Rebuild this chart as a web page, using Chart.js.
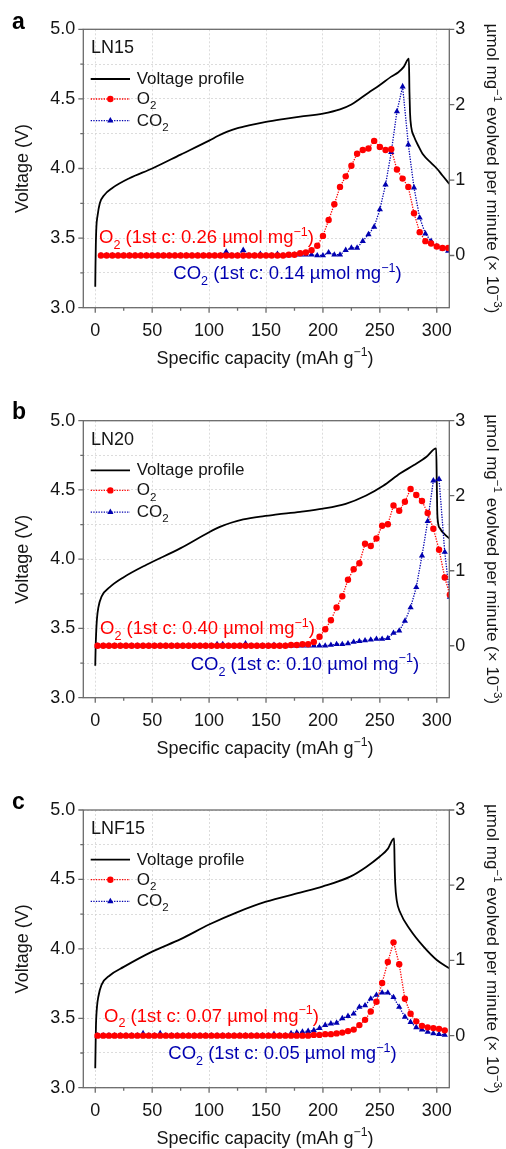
<!DOCTYPE html>
<html>
<head>
<meta charset="utf-8">
<script src="https://cdn.jsdelivr.net/npm/chart.js@4.4.1/dist/chart.umd.min.js"></script>
<style>
html,body{margin:0;padding:0;background:#fff;}
body{width:506px;height:1149px;position:relative;overflow:hidden;}
canvas{position:absolute;left:0;}
</style>
</head>
<body>
<canvas id="ca" width="506" height="385" style="top:0px"></canvas>
<canvas id="cb" width="506" height="385" style="top:390px"></canvas>
<canvas id="cc" width="506" height="369" style="top:780px"></canvas>
<script>
// ---------------- DATA ----------------
// shared ticks
const xMajor = [0, 50, 100, 150, 200, 250, 300];
const xMinor = [25, 75, 125, 175, 225, 275];
const yMajor = [3.0, 3.5, 4.0, 4.5, 5.0];
const yMinor = [3.25, 3.75, 4.25, 4.75];
const y2Major = [0, 1, 2, 3];

// Panel a : LN15
const capGasA = [5,10,15,20,25,30,35,40,45,50,55,60,65,70,75,80,85,90,95,100,105,110,115,120,125,130,135,140,145,150,155,160,165,170,175,180,185,190,195,200,205,210,215,220,225,230,235,240,245,250,255,260,265,270,275,280,285,290,295,300,305,310];
const o2A = [0,0,0,0,0,0,0,0,0,0, 0,0,0,0,0,0,0,0,0,0, 0,0,0,0,0,0,0,0,0,0, 0,0,0,
  0.01,0.01,0.03,0.04,0.07,0.13,0.26,0.47,0.68,0.91,1.05,1.19,1.35,1.40,1.42,1.52,1.44,1.40,1.41,1.14,1.02,0.91,0.56,0.31,0.19,0.16,0.12,0.10,0.10];
const co2A = [0,0,0,0,0,0,0,0,0,0, 0,0,0,0,0,0,0,0,0,0, 0,0,0.05,0,0,0.07,0,0,0.02,0,0,0.02,0,0,0.01,0.01,0.01,
  0.01,0.00,0.00,0.04,0.01,0.01,0.07,0.10,0.10,0.19,0.28,0.38,0.61,0.94,1.37,1.91,2.24,1.47,0.90,0.50,0.29,0.19,0.12,0.09,0.06];
const capVA = [0,0.2,0.5,1,2,4,8,15,30,50,75,100,108,116,125,135,150,165,180,200,215,225,240,250,260,266,271,275.5,276,276.5,277.5,280,284,288,295,300,305,311];
const voltA = [3.15,3.30,3.45,3.58,3.66,3.75,3.81,3.86,3.93,4.00,4.10,4.20,4.235,4.265,4.29,4.31,4.335,4.355,4.373,4.395,4.425,4.46,4.545,4.60,4.66,4.69,4.73,4.79,4.55,4.40,4.30,4.23,4.16,4.10,4.04,4.00,3.95,3.89];

// Panel b : LN20
const capGasB = [2,7,12,17,22,27,32,37,42,47,52,57,62,67,72,77,82,87,92,97,102,107,112,117,122,127,132,137,142,147,152,157,162,167,172,177,182,187,192,197,202,207,212,217,222,227,232,237,242,247,252,257,262,267,272,277,282,287,292,297,302,307,311.5];
const o2B = [0,0,0,0,0,0,0,0,0,0, 0,0,0,0,0,0,0,0,0,0, 0,0,0,0,0,0,0,0,0,0, 0,0,0,0,
  0.01,0.01,0.02,0.02,0.05,0.12,0.22,0.34,0.51,0.66,0.88,1.02,1.10,1.36,1.33,1.43,1.60,1.62,1.87,1.80,1.92,2.09,2.01,1.93,1.77,1.56,1.28,0.91,0.68];
const co2B = [0,0,0,0,0,0,0,0,0,0, 0,0,0,0,0,0,0,0,0,0, 0,0.02,0.02,0,0,0,0.03,0,0,0, 0,0.01,0,0,0,0,0,0,0,
  0.00,0.00,0.01,0.02,0.02,0.03,0.05,0.06,0.07,0.08,0.09,0.09,0.10,0.17,0.20,0.33,0.51,0.78,1.20,1.66,2.20,2.22,1.25,0.65];
const capVB = [0,0.3,0.8,1.5,2.7,5.5,13,25,45,75,100,110,120,130,145,160,180,200,220,238,253,268,280,291,299.5,300,300.4,301,303,307,311];
const voltB = [3.23,3.35,3.47,3.57,3.65,3.73,3.80,3.87,3.96,4.08,4.195,4.235,4.265,4.287,4.308,4.323,4.342,4.365,4.40,4.46,4.53,4.62,4.68,4.74,4.80,4.55,4.35,4.27,4.22,4.18,4.15];

// Panel c : LNF15
const capGasC = [2,7,12,17,22,27,32,37,42,47,52,57,62,67,72,77,82,87,92,97,102,107,112,117,122,127,132,137,142,147,152,157,162,167,172,177,182,187,192,197,202,207,212,217,222,227,232,237,242,247,252,257,262,267,272,277,282,287,292,297,302,307];
const o2C = [0,0,0,0,0,0,0,0,0,0, 0,0,0,0,0,0,0,0,0,0, 0,0,0,0,0,0,0,0,0,0, 0,0,0,0,0,0,0,0,
  0.01,0.01,0.02,0.02,0.03,0.04,0.06,0.08,0.14,0.21,0.32,0.45,0.70,0.98,1.24,0.95,0.49,0.29,0.19,0.13,0.11,0.10,0.09,0.07];
const co2C = [0,0,0,0,0,0,0,0,0.03,0, 0,0.03,0,0,0,0,0,0,0,0, 0,0,0,0,0,0,0,0,0,0, 0,0.02,0,0,
  0.03,0.04,0.05,0.06,0.07,0.10,0.14,0.16,0.17,0.23,0.26,0.29,0.38,0.40,0.49,0.54,0.57,0.57,0.51,0.38,0.25,0.18,0.11,0.08,0.05,0.03,0.02,0.01];
const capVC = [0,0.3,0.6,1.5,2.7,5.5,13,25,50,75,100,125,150,180,200,224,238,250,257,262.5,263,263.5,264.8,268,276.5,288,300,311];
const voltC = [3.14,3.30,3.44,3.58,3.655,3.74,3.81,3.87,3.98,4.07,4.175,4.265,4.34,4.405,4.45,4.52,4.59,4.665,4.72,4.795,4.60,4.47,4.35,4.26,4.14,4.02,3.92,3.86];

// text
const panelLetters = ['a', 'b', 'c'];
const sampleNames = ['LN15', 'LN20', 'LNF15'];
const o2Notes = ['O_{2} (1st c: 0.26 µmol mg^{−1})', 'O_{2} (1st c: 0.40 µmol mg^{−1})', 'O_{2} (1st c: 0.07 µmol mg^{−1})'];
const co2Notes = ['CO_{2} (1st c: 0.14 µmol mg^{−1})', 'CO_{2} (1st c: 0.10 µmol mg^{−1})', 'CO_{2} (1st c: 0.05 µmol mg^{−1})'];
const legendLabels = ['Voltage profile', 'O_{2}', 'CO_{2}'];
const xTitle = 'Specific capacity (mAh g^{−1})';
const yTitle = 'Voltage (V)';
const y2Title = 'µmol mg^{−1} evolved per minute (× 10^{−3})';

// ---------------- STYLE ----------------
const FONT = '"Liberation Sans", Arial, Helvetica, sans-serif';
const AXIS = '#6b6b6b', GRID = '#d4d4d4', TXT = '#151515', RED = '#ff0000', BLUE = '#0000b0';

function parseRich(s) {
  const out = []; const re = /([_^])\{([^}]*)\}/g; let last = 0, m;
  while ((m = re.exec(s))) {
    if (m.index > last) out.push({ t: s.slice(last, m.index) });
    out.push({ t: m[2], k: m[1] === '_' ? 'sub' : 'sup' });
    last = re.lastIndex;
  }
  if (last < s.length) out.push({ t: s.slice(last) });
  return out;
}
function setF(ctx, seg, size, bold) {
  const sz = seg.k ? size * 0.68 : size;
  ctx.font = (bold ? 'bold ' : '') + sz + 'px ' + FONT;
}
function richWidth(ctx, segs, size, bold) {
  let w = 0; segs.forEach(s => { setF(ctx, s, size, bold); w += ctx.measureText(s.t).width; }); return w;
}
function drawRich(ctx, str, x, y, size, color, align, bold) {
  const segs = parseRich(str);
  const w = richWidth(ctx, segs, size, bold);
  let cx = align === 'center' ? x - w / 2 : x;
  ctx.fillStyle = color; ctx.textAlign = 'left'; ctx.textBaseline = 'alphabetic';
  segs.forEach(s => {
    setF(ctx, s, size, bold);
    let dy = 0;
    if (s.k === 'sub') dy = size * 0.30;
    if (s.k === 'sup') dy = -size * 0.42;
    ctx.fillText(s.t, cx, y + dy);
    cx += ctx.measureText(s.t).width;
  });
}

function deco(i, pos) {
  return {
    id: 'deco' + i,
    afterDatasetsDraw(chart) {
      const { ctx, chartArea: ca, scales } = chart;
      ctx.save();
      ctx.strokeStyle = AXIS; ctx.lineWidth = 1.3; ctx.setLineDash([]);
      ctx.strokeRect(ca.left, ca.top, ca.right - ca.left, ca.bottom - ca.top);
      ctx.beginPath();
      xMajor.forEach(v => { const p = scales.x.getPixelForValue(v); ctx.moveTo(p, ca.bottom); ctx.lineTo(p, ca.bottom + 5); });
      xMinor.forEach(v => { const p = scales.x.getPixelForValue(v); ctx.moveTo(p, ca.bottom); ctx.lineTo(p, ca.bottom + 3); });
      yMajor.forEach(v => { const p = scales.y.getPixelForValue(v); ctx.moveTo(ca.left, p); ctx.lineTo(ca.left - 5, p); });
      yMinor.forEach(v => { const p = scales.y.getPixelForValue(v); ctx.moveTo(ca.left, p); ctx.lineTo(ca.left - 3, p); });
      y2Major.forEach(v => { const p = scales.y2.getPixelForValue(v); ctx.moveTo(ca.right, p); ctx.lineTo(ca.right + 5, p); });
      ctx.stroke();
      ctx.restore();
    },
    afterDraw(chart) {
      const { ctx, chartArea: ca } = chart;
      const cy = (ca.top + ca.bottom) / 2;
      ctx.save();
      // panel letter
      drawRich(ctx, panelLetters[i], 12, 29, 23, '#000', 'left', true);
      // axis titles
      drawRich(ctx, xTitle, 265, 363.5, 18, TXT, 'center');
      ctx.save(); ctx.translate(28, cy); ctx.rotate(-Math.PI / 2);
      drawRich(ctx, yTitle, 0, 0, 18, TXT, 'center'); ctx.restore();
      ctx.save(); ctx.translate(487, cy); ctx.rotate(Math.PI / 2);
      drawRich(ctx, y2Title, 0, 0, 17, TXT, 'center'); ctx.restore();
      // legend
      drawRich(ctx, sampleNames[i], ca.left + 7.7, ca.top + 24, 18, TXT, 'left');
      const lx0 = ca.left + 7.4, lx1 = ca.left + 46.7, tx = ca.left + 53.4;
      const rows = [49.7, 69.7, 91.4];
      ctx.lineWidth = 1.8; ctx.strokeStyle = '#000'; ctx.setLineDash([]);
      ctx.beginPath(); ctx.moveTo(lx0, ca.top + rows[0]); ctx.lineTo(lx1, ca.top + rows[0]); ctx.stroke();
      ctx.lineWidth = 1.3; ctx.setLineDash([1.3, 1.3]);
      ctx.strokeStyle = RED; ctx.beginPath(); ctx.moveTo(lx0, ca.top + rows[1]); ctx.lineTo(lx1, ca.top + rows[1]); ctx.stroke();
      ctx.strokeStyle = BLUE; ctx.beginPath(); ctx.moveTo(lx0, ca.top + rows[2]); ctx.lineTo(lx1, ca.top + rows[2]); ctx.stroke();
      ctx.setLineDash([]);
      const mx = (lx0 + lx1) / 2;
      ctx.fillStyle = RED; ctx.strokeStyle = RED;
      Chart.helpers.drawPoint(ctx, { pointStyle: 'circle', radius: 3.2, rotation: 0, borderWidth: 0 }, mx, ca.top + rows[1]);
      ctx.fillStyle = BLUE; ctx.strokeStyle = BLUE;
      Chart.helpers.drawPoint(ctx, { pointStyle: 'triangle', radius: 3.6, rotation: 0, borderWidth: 0 }, mx, ca.top + rows[2]);
      drawRich(ctx, legendLabels[0], tx, ca.top + 54.7, 17, TXT, 'left');
      drawRich(ctx, legendLabels[1], tx, ca.top + 74.7, 17, TXT, 'left');
      drawRich(ctx, legendLabels[2], tx, ca.top + 96.2, 17, TXT, 'left');
      // annotations
      drawRich(ctx, o2Notes[i], pos.o2x, ca.top + pos.o2y, 18.5, RED, 'left');
      drawRich(ctx, co2Notes[i], pos.co2x, ca.top + pos.co2y, 18.5, BLUE, 'left');
      ctx.restore();
    }
  };
}

function pts(xs, ys) { return xs.map((x, k) => ({ x: x, y: ys[k] })); }

function makePanel(i, canvasId, H, padTop, gasX, o2, co2, vX, vY, pos) {
  const tickFont = { family: FONT, size: 18 };
  new Chart(document.getElementById(canvasId), {
    type: 'line',
    data: {
      datasets: [
        { label: 'O2', data: pts(gasX, o2), yAxisID: 'y2', order: 0,
          borderColor: RED, backgroundColor: RED, borderWidth: 1.3, borderDash: [1.3, 1.3],
          pointStyle: 'circle', pointRadius: 3.2, pointBackgroundColor: RED, pointBorderWidth: 0 },
        { label: 'CO2', data: pts(gasX, co2), yAxisID: 'y2', order: 1,
          borderColor: BLUE, backgroundColor: BLUE, borderWidth: 1.3, borderDash: [1.3, 1.3],
          pointStyle: 'triangle', pointRadius: 3.6, pointBackgroundColor: BLUE, pointBorderWidth: 0 },
        { label: 'Voltage profile', data: pts(vX, vY), yAxisID: 'y', order: 2,
          borderColor: '#000', borderWidth: 1.8, pointRadius: 0, cubicInterpolationMode: 'monotone' }
      ]
    },
    options: {
      responsive: false, animation: false, devicePixelRatio: 1, events: [],
      layout: { padding: { top: padTop, left: 0, right: 0, bottom: 0 } },
      plugins: { legend: { display: false }, tooltip: { enabled: false }, title: { display: false } },
      scales: {
        x: {
          type: 'linear', min: -10.5, max: 311,
          afterBuildTicks: s => { s.ticks = xMajor.concat(xMinor).sort((a, b) => a - b).map(v => ({ value: v })); },
          afterFit: s => { s.height = H - 307.7; },
          ticks: { autoSkip: false, maxRotation: 0, padding: 13, color: TXT, font: tickFont,
            callback: v => xMajor.includes(v) ? String(v) : '' },
          grid: { drawTicks: false, lineWidth: 0.8, color: c => (c.tick && xMajor.includes(c.tick.value)) ? GRID : 'rgba(0,0,0,0)' },
          border: { display: false, dash: [2, 2] }
        },
        y: {
          type: 'linear', position: 'left', min: 3, max: 5,
          afterBuildTicks: s => { s.ticks = yMajor.concat(yMinor).sort((a, b) => a - b).map(v => ({ value: v })); },
          afterFit: s => { s.width = 83.3; },
          ticks: { autoSkip: false, padding: 8, color: TXT, font: tickFont,
            callback: v => yMajor.includes(v) ? v.toFixed(1) : '' },
          grid: { drawTicks: false, lineWidth: 0.8, color: GRID },
          border: { display: false, dash: [2, 2] }
        },
        y2: {
          type: 'linear', position: 'right', min: -0.6923, max: 3,
          afterBuildTicks: s => { s.ticks = y2Major.map(v => ({ value: v })); },
          afterFit: s => { s.width = 56.7; },
          ticks: { autoSkip: false, padding: 6, color: TXT, font: tickFont, callback: v => String(v) },
          grid: { drawTicks: false, drawOnChartArea: false },
          border: { display: false }
        }
      }
    },
    plugins: [deco(i, pos)]
  });
}

makePanel(0, 'ca', 385, 29.3, capGasA, o2A, co2A, capVA, voltA, { o2x: 99, o2y: 214.0, co2x: 173.3, co2y: 250.0 });
makePanel(1, 'cb', 385, 30.7, capGasB, o2B, co2B, capVB, voltB, { o2x: 100, o2y: 213.6, co2x: 190.7, co2y: 249.3 });
makePanel(2, 'cc', 369, 30.0, capGasC, o2C, co2C, capVC, voltC, { o2x: 104, o2y: 211.7, co2x: 168.3, co2y: 249.3 });
</script>
</body>
</html>
